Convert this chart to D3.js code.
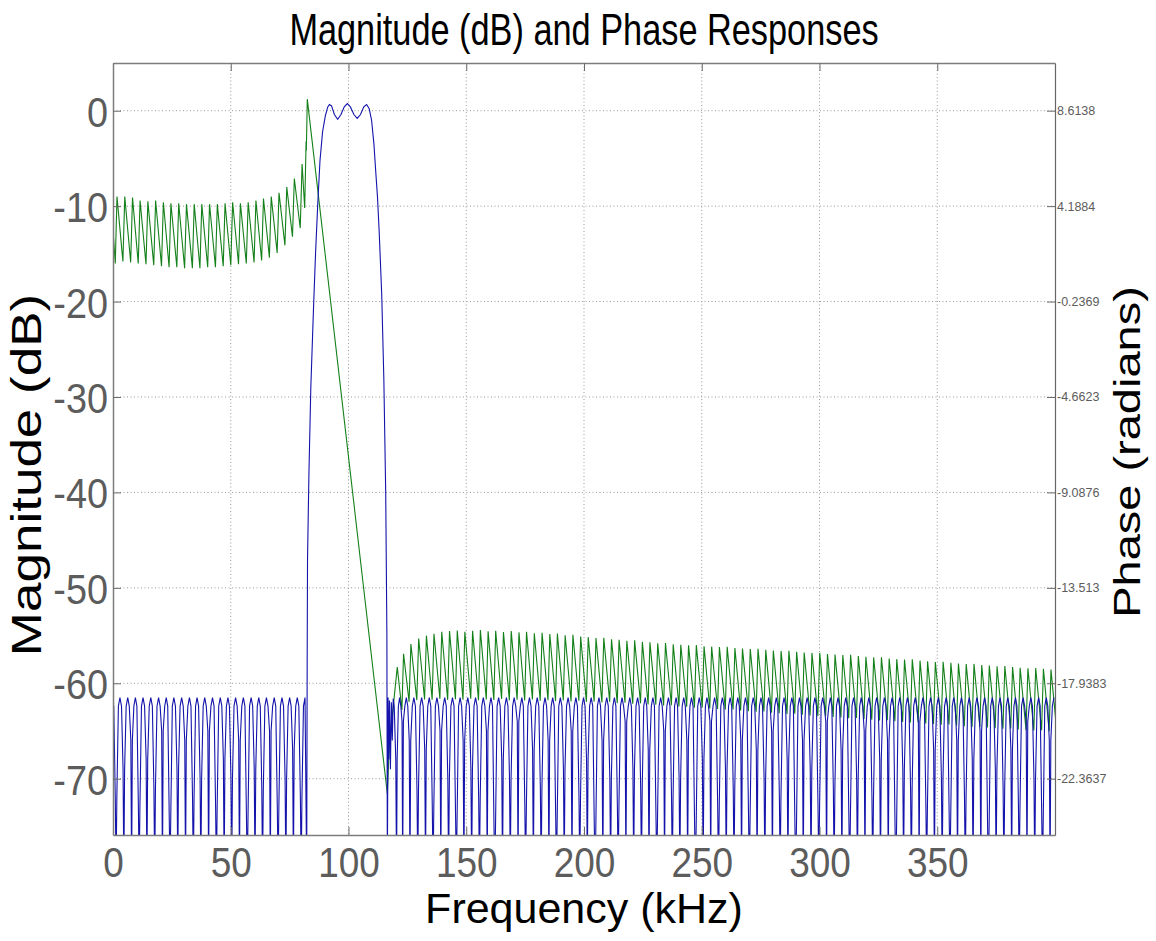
<!DOCTYPE html>
<html>
<head>
<meta charset="utf-8">
<title>Magnitude (dB) and Phase Responses</title>
<script src="https://cdn.jsdelivr.net/npm/d3@7"></script>
<style>
  html, body { margin: 0; padding: 0; background: #fff; }
  figure { margin: 0; }
  svg { display: block; font-family: "Liberation Sans", Arial, Helvetica, sans-serif; }
</style>
</head>
<body>
<figure id="response"></figure>
<script>
// axis limits and tick labels, as shown on the picture
const freqRange = [0, 400];            // kHz
const magRange = [-75.9, 5];           // dB
const phaseRange = [-24.975, 10.826];  // radians, right axis
const freqTicks = [0, 50, 100, 150, 200, 250, 300, 350];
const magTicks = [0, -10, -20, -30, -40, -50, -60, -70];
const phaseTicks = [8.6138, 4.1884, -0.2369, -4.6623, -9.0876, -13.513, -17.9383, -22.3637];

// stopband: frequency of each deep null (kHz) and how far the lobe sides fall before it (dB)
const lobeWidth = 3.275;
const stopPeakDb = -61.5;
const stopShoulderDb = -62.4;
const floorDb = -80;
const lowNulls = [1.3, 4.6, 7.9, 11.1, 14.4, 17.7, 21.0, 24.2, 27.5, 30.8, 34.1, 37.3, 40.6,
  43.9, 47.2, 50.4, 53.7, 57.0, 60.3, 63.5, 66.8, 70.1, 73.4, 76.6, 79.9];
const lowKnees = [-72, -69, -66, -73, -68, -71, -65, -74, -69, -66, -72, -70, -65,
  -73, -68, -70, -66, -74, -69, -71, -65, -73, -70, -67, -72];
const highNulls = [120.4, 123.0, 126.1, 129.4, 132.7, 135.9, 139.2, 142.5, 145.8, 149.0,
  152.3, 155.6, 158.9, 162.1, 165.4, 168.7, 172.0, 175.2, 178.5, 181.8, 185.1, 188.3, 191.6,
  194.9, 198.2, 201.4, 204.7, 208.0, 211.3, 214.5, 217.8, 221.1, 224.4, 227.6, 230.9, 234.2,
  237.5, 240.7, 244.0, 247.3, 250.6, 253.8, 257.1, 260.4, 263.7, 266.9, 270.2, 273.5, 276.8,
  280.0, 283.3, 286.6, 289.9, 293.1, 296.4, 299.7, 303.0, 306.2, 309.5, 312.8, 316.1, 319.3,
  322.6, 325.9, 329.2, 332.4, 335.7, 339.0, 342.3, 345.5, 348.8, 352.1, 355.4, 358.6, 361.9,
  365.2, 368.5, 371.7, 375.0, 378.3, 381.6, 384.8, 388.1, 391.4, 394.7, 397.9];
const highKnees = [-68, -64, -66, -71, -67, -73, -65, -70, -74, -66,
  -69, -72, -65, -75, -68, -70, -64, -73, -67, -71,
  -66, -74, -69, -65, -72, -68, -75, -66, -70, -73,
  -64, -69, -71, -67, -74, -65, -72, -70, -66, -75,
  -68, -64, -73, -69, -71, -66, -74, -67, -70, -65,
  -72, -68, -75, -66, -69, -73, -64, -71, -67, -74,
  -70, -65, -72, -68, -66, -75, -69, -71, -64, -73,
  -67, -70, -74, -66, -72, -68, -65, -75, -69, -71,
  -67, -73, -64, -70, -74, -66];

// magnitude: start of the trace and the passband with its two skirts
const magLeadFreq = [0];
const magLeadDb = [-62.4];
const passFreq = [82.25, 82.45, 82.6, 83.2, 84.0, 85.1, 86.0, 86.9, 87.9, 89.0, 90.2, 91.2,
  91.9, 92.8, 94.0, 95.4, 96.8, 98.2, 99.5, 100.8, 102.3, 103.7, 105.1, 106.5, 107.7, 108.8,
  109.8, 110.8, 111.6, 112.3, 113.0, 114.1, 115.0, 115.8, 116.3, 116.5, 116.8, 117.1, 117.4,
  117.8, 118.2, 118.6, 119.0];
const passDb = [-80, -58, -47, -38, -29, -21, -15, -10, -5.2, -2.2, -0.5, 0.4,
  0.65, 0.5, -0.4, -0.9, -0.4, 0.4, 0.75, 0.4, -0.4, -0.8, -0.4, 0.4, 0.65, 0.2,
  -1.0, -3.5, -6.5, -9, -12.5, -19.2, -28, -40, -55, -80, -61.5, -68, -61.8,
  -69, -62, -66, -61.6];

// phase (radians): top after each jump and bottom before the next one
const phaseLeadFreq = [0, 0.97];
const phaseLeadRad = [3.08, 1.53];
const lowTops = [4.63, 4.63, 4.59, 4.45, 4.41, 4.45, 4.37, 4.32, 4.32, 4.28, 4.28, 4.28, 4.28,
  4.28, 4.32, 4.37, 4.32, 4.37, 4.45, 4.54, 4.63, 4.81, 5.07, 5.47, 6.14];
const lowBottoms = [1.62, 1.58, 1.53, 1.49, 1.45, 1.40, 1.36, 1.36, 1.31, 1.31, 1.31, 1.36,
  1.36, 1.40, 1.45, 1.49, 1.53, 1.58, 1.67, 1.80, 2.02, 2.37, 2.77, 3.17];
const phasePassFreq = [81.4, 82.0, 82.1, 82.5, 116.5, 117.3];
const phasePassRad = [4.10, 7.20, 6.76, 9.15, -23.07, -20.82];
const highTops = [-17.19, -16.57, -16.12, -15.86, -15.73, -15.64, -15.55, -15.52, -15.49, -15.55,
  -15.50, -15.47, -15.53, -15.50, -15.56, -15.52, -15.58, -15.55, -15.62, -15.60,
  -15.66, -15.63, -15.71, -15.69, -15.77, -15.80, -15.84, -15.83, -15.90, -15.92,
  -15.97, -15.95, -16.02, -16.04, -16.08, -16.07, -16.13, -16.15, -16.18, -16.17,
  -16.22, -16.24, -16.26, -16.25, -16.30, -16.33, -16.35, -16.34, -16.39, -16.42,
  -16.44, -16.43, -16.48, -16.51, -16.53, -16.52, -16.58, -16.61, -16.63, -16.62,
  -16.68, -16.71, -16.74, -16.73, -16.79, -16.82, -16.84, -16.83, -16.89, -16.92,
  -16.95, -16.94, -16.99, -17.02, -17.05, -17.04, -17.09, -17.12, -17.15, -17.14,
  -17.19, -17.22, -17.24, -17.23, -17.27, -17.30];
const highBottoms = [-19.18, -18.80, -18.72, -18.69, -18.70, -18.66, -18.71, -18.68, -18.70, -18.65,
  -18.72, -18.69, -18.71, -18.67, -18.73, -18.70, -18.74, -18.69, -18.75, -18.72,
  -18.76, -18.73, -18.78, -18.75, -18.80, -18.79, -18.83, -18.80, -18.86, -18.84,
  -18.89, -18.87, -18.92, -18.93, -18.97, -18.96, -19.01, -19.03, -19.07, -19.06,
  -19.11, -19.13, -19.16, -19.15, -19.20, -19.23, -19.26, -19.25, -19.30, -19.33,
  -19.36, -19.35, -19.40, -19.43, -19.46, -19.45, -19.50, -19.53, -19.56, -19.55,
  -19.60, -19.63, -19.66, -19.65, -19.70, -19.73, -19.76, -19.75, -19.80, -19.83,
  -19.86, -19.85, -19.90, -19.93, -19.96, -19.95, -19.99, -20.02, -20.05, -20.04,
  -20.08, -20.11, -20.13, -20.12, -20.16, -20.19];

const zip = (xs, ys) => xs.map((v, i) => [v, ys[i]]);

// one stopband lobe per null: shoulder, fall to the knee, drop to the floor and back up
function lobePoints(nulls, knees) {
  const pts = [];
  nulls.forEach((n, i) => {
    const wl = i > 0 ? n - nulls[i - 1] : lobeWidth;
    const wr = i < nulls.length - 1 ? nulls[i + 1] - n : lobeWidth;
    pts.push([n - 0.3 * wl, stopShoulderDb], [n - 0.1 * wl, knees[i]], [n, floorDb],
      [n + 0.1 * wr, knees[i]], [n + 0.3 * wr, stopShoulderDb], [n + 0.5 * wr, stopPeakDb]);
  });
  return pts;
}

// wrapped phase: jump up at each null, then fall to the next one
function sawPoints(nulls, tops, bottoms) {
  const pts = [];
  nulls.forEach((n, i) => {
    const w = i < nulls.length - 1 ? nulls[i + 1] - n : lobeWidth;
    pts.push([n + 0.12 * w, tops[i]]);
    if (i < bottoms.length) pts.push([n + 0.88 * w, bottoms[i]]);
  });
  return pts;
}

class ResponseChart {
  constructor(figureId) {
    this.figureId = figureId;
    this.width = 1156;
    this.height = 941;
    this.left = 113;
    this.right = 1055;
    this.top = 63;
    this.bottom = 835;
    this.textSquash = 0.8;
    this.x = d3.scaleLinear().domain(freqRange).range([this.left, this.right]);
    this.yMag = d3.scaleLinear().domain(magRange).range([this.bottom, this.top]);
    this.yPhase = d3.scaleLinear().domain(phaseRange).range([this.bottom, this.top]);
  }
  createSvg() {
    this.svg = d3.select("figure#" + this.figureId)
      .append("svg")
      .attr("width", this.width)
      .attr("height", this.height);
    this.svg.append("rect")
      .attr("width", this.width)
      .attr("height", this.height)
      .attr("fill", "#fff");
    this.svg.append("clipPath")
      .attr("id", "plot-clip")
      .append("rect")
      .attr("x", this.left)
      .attr("y", this.top)
      .attr("width", this.right - this.left)
      .attr("height", this.bottom - this.top);
  }
  drawGrid() {
    const grid = this.svg.append("g")
      .attr("stroke", "#9a9a9a")
      .attr("stroke-width", 1)
      .attr("stroke-dasharray", "1,2.5");
    grid.selectAll("line.vgrid")
      .data(freqTicks.filter(d => d > freqRange[0]))
      .enter()
      .append("line")
      .attr("x1", d => this.x(d)).attr("x2", d => this.x(d))
      .attr("y1", this.top).attr("y2", this.bottom);
    grid.selectAll("line.hgrid")
      .data(magTicks)
      .enter()
      .append("line")
      .attr("x1", this.left).attr("x2", this.right)
      .attr("y1", d => this.yMag(d)).attr("y2", d => this.yMag(d));
  }
  styleAxis(g, size) {
    g.attr("font-family", null).attr("font-size", size);
    g.select(".domain").attr("stroke", "#7c7c7c").attr("stroke-width", 1.5);
    g.selectAll(".tick line").attr("stroke", "#6a6a6a");
    g.selectAll(".tick text").attr("fill", "#5c5c5c");
  }
  drawAxes() {
    const squash = 0.88;
    const bottom = this.svg.append("g")
      .attr("transform", "translate(0," + this.bottom + ")")
      .call(d3.axisBottom(this.x).tickValues(freqTicks).tickFormat(d => String(d))
        .tickSizeInner(-8).tickSizeOuter(0).tickPadding(12));
    this.styleAxis(bottom, 42);
    bottom.selectAll(".tick text").attr("transform", "scale(" + squash + ",1)");

    const top = this.svg.append("g")
      .attr("transform", "translate(0," + this.top + ")")
      .call(d3.axisTop(this.x).tickValues(freqTicks).tickFormat("")
        .tickSizeInner(-8).tickSizeOuter(0));
    this.styleAxis(top, 10);

    const left = this.svg.append("g")
      .attr("transform", "translate(" + this.left + ",0)")
      .call(d3.axisLeft(this.yMag).tickValues(magTicks).tickFormat(d => String(d))
        .tickSizeInner(-8).tickSizeOuter(0).tickPadding(5));
    this.styleAxis(left, 43);
    left.selectAll(".tick text")
      .attr("x", -5 / squash)
      .attr("dy", "0.36em")
      .attr("transform", "scale(" + squash + ",1)");

    const right = this.svg.append("g")
      .attr("transform", "translate(" + this.right + ",0)")
      .call(d3.axisRight(this.yPhase).tickValues(phaseTicks).tickFormat(d => String(d))
        .tickSizeInner(-8).tickSizeOuter(0).tickPadding(2));
    this.styleAxis(right, 12.5);
    right.select(".domain").attr("stroke", "#666").attr("stroke-width", 1.2);
  }
  drawMagnitude() {
    const pts = zip(magLeadFreq, magLeadDb)
      .concat(lobePoints(lowNulls, lowKnees))
      .concat(zip(passFreq, passDb))
      .concat(lobePoints(highNulls, highKnees));
    const line = d3.line().x(d => this.x(d[0])).y(d => this.yMag(d[1]));
    this.svg.append("path")
      .datum(pts)
      .attr("clip-path", "url(#plot-clip)")
      .attr("fill", "none")
      .attr("stroke", "#1414ac")
      .attr("stroke-width", 1.1)
      .attr("d", line);
  }
  drawPhase() {
    const pts = zip(phaseLeadFreq, phaseLeadRad)
      .concat(sawPoints(lowNulls, lowTops, lowBottoms))
      .concat(zip(phasePassFreq, phasePassRad))
      .concat(sawPoints(highNulls, highTops, highBottoms));
    const line = d3.line().x(d => this.x(d[0])).y(d => this.yPhase(d[1]));
    this.svg.append("path")
      .datum(pts)
      .attr("clip-path", "url(#plot-clip)")
      .attr("fill", "none")
      .attr("stroke", "#14801a")
      .attr("stroke-width", 1.1)
      .attr("d", line);
  }
  drawLabels() {
    const mid = (this.left + this.right) / 2;
    const s = this.textSquash;
    this.svg.append("text")
      .attr("transform", "translate(" + mid + ",45) scale(0.78,1)")
      .attr("text-anchor", "middle")
      .attr("font-size", 44)
      .attr("fill", "#000")
      .text("Magnitude (dB) and Phase Responses");
    this.svg.append("text")
      .attr("transform", "translate(" + mid + ",923)")
      .attr("text-anchor", "middle")
      .attr("font-size", 43)
      .attr("fill", "#000")
      .text("Frequency (kHz)");
    this.svg.append("text")
      .attr("transform", "translate(41,475) scale(" + s + ",1) rotate(-90)")
      .attr("text-anchor", "middle")
      .attr("font-size", 53)
      .attr("fill", "#000")
      .text("Magnitude (dB)");
    this.svg.append("text")
      .attr("transform", "translate(1140,452) scale(" + s + ",1) rotate(-90)")
      .attr("text-anchor", "middle")
      .attr("font-size", 47)
      .attr("fill", "#000")
      .text("Phase (radians)");
  }
  render() {
    this.createSvg();
    this.drawGrid();
    this.drawPhase();
    this.drawMagnitude();
    this.drawAxes();
    this.drawLabels();
  }
}

new ResponseChart("response").render();
</script>
</body>
</html>
